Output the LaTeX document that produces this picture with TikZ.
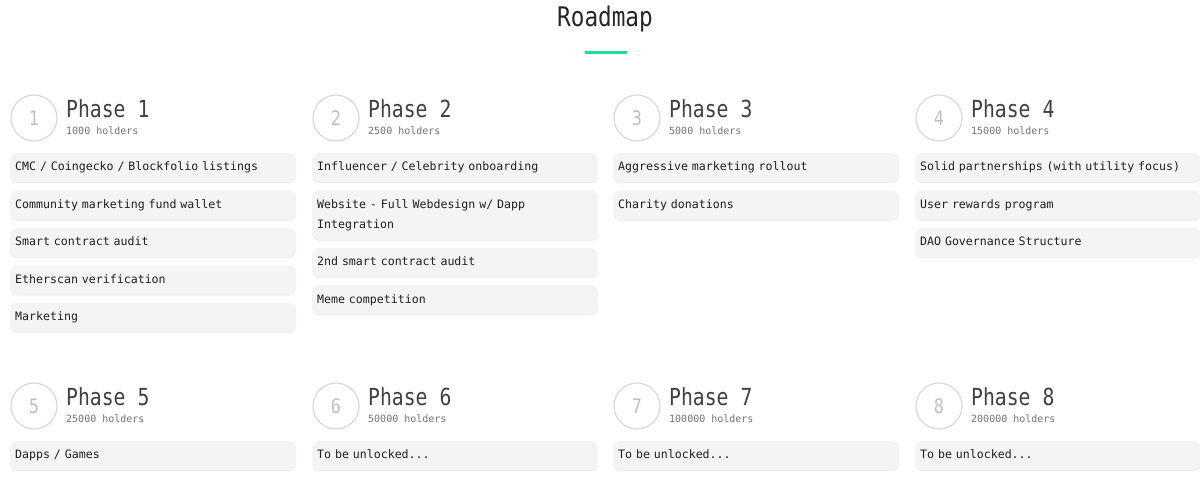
\documentclass[tikz,border=0pt]{standalone}
\usepackage{fontspec}
\newfontfamily\headfont[FakeStretch=0.84]{DejaVu Sans Mono}
\newfontfamily\itemfont{DejaVu Sans Mono}
\usetikzlibrary{positioning,shadows}
\definecolor{mint}{RGB}{30,222,148}
\definecolor{cardgray}{RGB}{244,244,244}
\definecolor{ringgray}{RGB}{216,216,216}
\tikzset{
	card/.style={anchor=north west, fill=cardgray, rounded corners=7pt, text width=276pt, inner xsep=5pt, inner ysep=4pt, minimum height=29pt, align=left, font=\itemfont\fontsize{11.6}{20}\selectfont, text=black!88, execute at begin node=\vphantom{Ag}, drop shadow={shadow xshift=0pt, shadow yshift=-1.2pt, opacity=0.12}},
	ring/.style={circle, draw=ringgray, line width=1.2pt, minimum size=46pt, inner sep=0pt, text=black!25, font=\headfont\fontsize{20}{20}\selectfont},
	phasetitle/.style={anchor=base west, inner sep=0pt, text=black!75, font=\headfont\fontsize{23.5}{24}\selectfont},
	holders/.style={anchor=base west, inner sep=0pt, text=black!55, font=\itemfont\fontsize{10}{10}\selectfont}
}
\def\phasehead(#1,#2)#3#4{%
	\node[ring] (c#3) at (#1+24,#2+1) {#3};
	\node[phasetitle] (t#3) at (#1+56,#2) {Phase #3};
	\node[holders] (h#3) at (#1+56,#2+17) {#4 holders};
}

\begin{document}
\begin{tikzpicture}[x=1pt,y=-1pt]
		%%%%% START %%%%%
		\useasboundingbox (0,0) rectangle (1200,479);
		
		\node[anchor=base, inner sep=0pt, text=black!85, font=\headfont\fontsize{27}{27}\selectfont] (title) at (605,27) {Roadmap};
		\draw[mint, line width=3pt] (585,52) -- (627,52);
		
		% first row
		\phasehead(10,117){1}{1000}
		\node[card] (p1a) at (10,153) {CMC / Coingecko / Blockfolio listings};
		\node[card, below=8pt of p1a] (p1b) {Community marketing fund wallet};
		\node[card, below=8pt of p1b] (p1c) {Smart contract audit};
		\node[card, below=8pt of p1c] (p1d) {Etherscan verification};
		\node[card, below=8pt of p1d] (p1e) {Marketing};
		
		\phasehead(312,117){2}{2500}
		\node[card] (p2a) at (312,153) {Influencer / Celebrity onboarding};
		\node[card, below=8pt of p2a, minimum height=49pt] (p2b) {Website - Full Webdesign w/ Dapp\\Integration};
		\node[card, below=8pt of p2b] (p2c) {2nd smart contract audit};
		\node[card, below=8pt of p2c] (p2d) {Meme competition};
		
		\phasehead(613,117){3}{5000}
		\node[card] (p3a) at (613,153) {Aggressive marketing rollout};
		\node[card, below=8pt of p3a] (p3b) {Charity donations};
		
		\phasehead(915,117){4}{15000}
		\node[card] (p4a) at (915,153) {Solid partnerships (with utility focus)};
		\node[card, below=8pt of p4a] (p4b) {User rewards program};
		\node[card, below=8pt of p4b] (p4c) {DAO Governance Structure};
		
		% second row
		\phasehead(10,405){5}{25000}
		\node[card] (p5a) at (10,441) {Dapps / Games};
		
		\phasehead(312,405){6}{50000}
		\node[card] (p6a) at (312,441) {To be unlocked...};
		
		\phasehead(613,405){7}{100000}
		\node[card] (p7a) at (613,441) {To be unlocked...};
		
		\phasehead(915,405){8}{200000}
		\node[card] (p8a) at (915,441) {To be unlocked...};
		%%%%% END %%%%%
	\end{tikzpicture}
\end{document}
